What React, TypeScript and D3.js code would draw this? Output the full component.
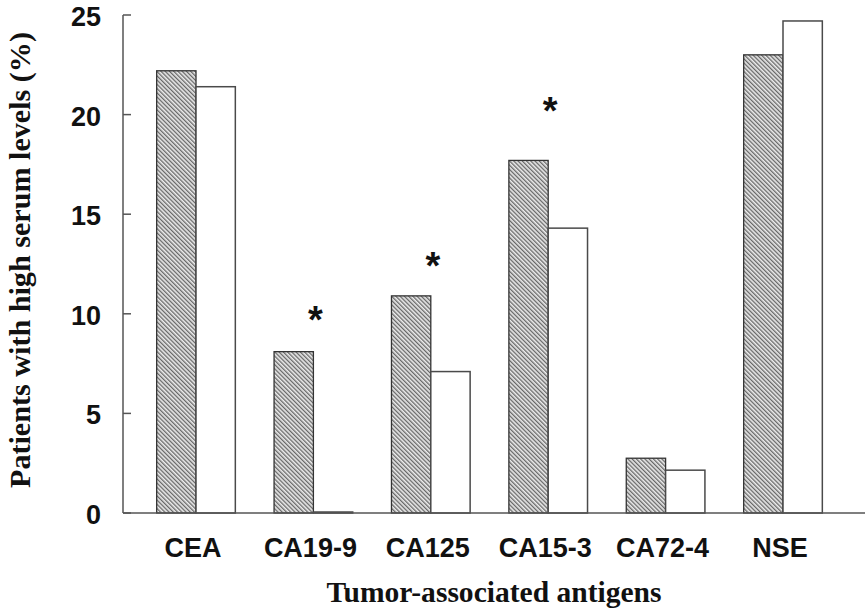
import React, {useRef, useEffect} from 'react';
import * as d3 from 'd3';

// tumor markers and the share of patients with high serum levels (%)
const categories = ['CEA', 'CA19-9', 'CA125', 'CA15-3', 'CA72-4', 'NSE'];
const hatchedValues = [22.2, 8.1, 10.9, 17.7, 2.75, 23.0];
const whiteValues = [21.4, 0.05, 7.1, 14.3, 2.15, 24.7];
// significance marks (value where the asterisk sits, null = none)
const starValues = [null, 10.0, 12.7, 20.5, null, null];
const yTicks = [0, 5, 10, 15, 20, 25];

const width = 865, height = 610;

const App = () => {
    const svgRef = useRef<SVGSVGElement>(null);

    useEffect(() => {
        const svg = d3.select(svgRef.current);
        svg.selectAll('*').remove();

        const margin = {left: 123, top: 15, bottom: 97};

        // hatch pattern for the first series ("\" stripes)
        const defs = svg.append('defs');
        const pat = defs.append('pattern')
            .attr('id', 'hatch')
            .attr('patternUnits', 'userSpaceOnUse')
            .attr('width', 3)
            .attr('height', 3)
            .attr('patternTransform', 'rotate(-45)');
        pat.append('rect').attr('width', 3).attr('height', 3).attr('fill', '#ececec');
        pat.append('line')
            .attr('x1', 0.7).attr('y1', 0).attr('x2', 0.7).attr('y2', 3)
            .attr('stroke', '#5a5a5a')
            .attr('stroke-width', 1.2);

        const yScale = d3.scaleLinear()
            .domain([0, 25])
            .range([height - margin.bottom, margin.top]);

        const xScale = d3.scaleBand()
            .domain(categories)
            .range([137.3, 841.7])
            .paddingInner(0.33)
            .paddingOuter(0.165);

        const inner = d3.scaleBand()
            .domain(['a', 'b'])
            .range([0, xScale.bandwidth()]);

        const groups = svg.append('g').selectAll('g')
            .data(categories)
            .join('g')
            .attr('transform', d => 'translate(' + xScale(d) + ',0)');

        groups.append('rect')
            .attr('x', inner('a'))
            .attr('width', inner.bandwidth())
            .attr('y', (d, i) => yScale(hatchedValues[i]))
            .attr('height', (d, i) => yScale(0) - yScale(hatchedValues[i]))
            .attr('fill', 'url(#hatch)')
            .attr('stroke', '#333')
            .attr('stroke-width', 1.3);

        groups.append('rect')
            .attr('x', inner('b'))
            .attr('width', inner.bandwidth())
            .attr('y', (d, i) => yScale(whiteValues[i]))
            .attr('height', (d, i) => yScale(0) - yScale(whiteValues[i]))
            .attr('fill', '#fff')
            .attr('stroke', '#4a4a4a')
            .attr('stroke-width', 1.5);

        // asterisks
        groups.filter((d, i) => starValues[i] !== null)
            .append('text')
            .attr('x', xScale.bandwidth() / 2 + 2)
            .attr('y', d => yScale(starValues[categories.indexOf(d)] as number) + 19)
            .attr('text-anchor', 'middle')
            .attr('font-family', 'Liberation Sans, Arial, sans-serif')
            .attr('font-weight', 'bold')
            .attr('font-size', '38px')
            .attr('fill', '#111')
            .text('*');

        // axes lines
        svg.append('line')
            .attr('x1', margin.left).attr('x2', margin.left)
            .attr('y1', yScale(25)).attr('y2', yScale(0))
            .attr('stroke', '#555').attr('stroke-width', 1.5);
        svg.append('line')
            .attr('x1', margin.left).attr('x2', width)
            .attr('y1', yScale(0)).attr('y2', yScale(0))
            .attr('stroke', '#555').attr('stroke-width', 1.5);

        // y ticks (pointing inward) and labels
        svg.append('g').selectAll('line')
            .data(yTicks)
            .join('line')
            .attr('x1', margin.left).attr('x2', margin.left + 8)
            .attr('y1', d => yScale(d)).attr('y2', d => yScale(d))
            .attr('stroke', '#555').attr('stroke-width', 1.5);

        svg.append('g').selectAll('text')
            .data(yTicks)
            .join('text')
            .attr('x', 101)
            .attr('y', d => yScale(d) + 11)
            .attr('text-anchor', 'end')
            .attr('font-family', 'Liberation Sans, Arial, sans-serif')
            .attr('font-weight', 'bold')
            .attr('font-size', '27px')
            .attr('fill', '#111')
            .text(d => d);

        // category labels
        svg.append('g').selectAll('text')
            .data(categories)
            .join('text')
            .attr('x', d => (xScale(d) as number) + xScale.bandwidth() / 2 - 3)
            .attr('y', 557)
            .attr('text-anchor', 'middle')
            .attr('font-family', 'Liberation Sans, Arial, sans-serif')
            .attr('font-weight', 'bold')
            .attr('font-size', '27px')
            .attr('fill', '#111')
            .text(d => d);

        // axis titles
        svg.append('text')
            .attr('x', 494)
            .attr('y', 602)
            .attr('text-anchor', 'middle')
            .attr('font-family', 'Liberation Serif, Times New Roman, serif')
            .attr('font-weight', 'bold')
            .attr('font-size', '29px')
            .attr('fill', '#111')
            .attr('textLength', 335)
            .attr('lengthAdjust', 'spacingAndGlyphs')
            .text('Tumor-associated antigens');

        svg.append('text')
            .attr('transform', 'translate(30,' + 260 + ') rotate(-90)')
            .attr('text-anchor', 'middle')
            .attr('font-family', 'Liberation Serif, Times New Roman, serif')
            .attr('font-weight', 'bold')
            .attr('font-size', '29px')
            .attr('fill', '#111')
            .attr('textLength', 456)
            .attr('lengthAdjust', 'spacingAndGlyphs')
            .text('Patients with high serum levels (%)');
    }, []);

    return (
        <svg ref={svgRef} width={width} height={height}
             style={{position: 'absolute', left: 0, top: 0, background: '#fff'}}/>
    );
};

export default App;
